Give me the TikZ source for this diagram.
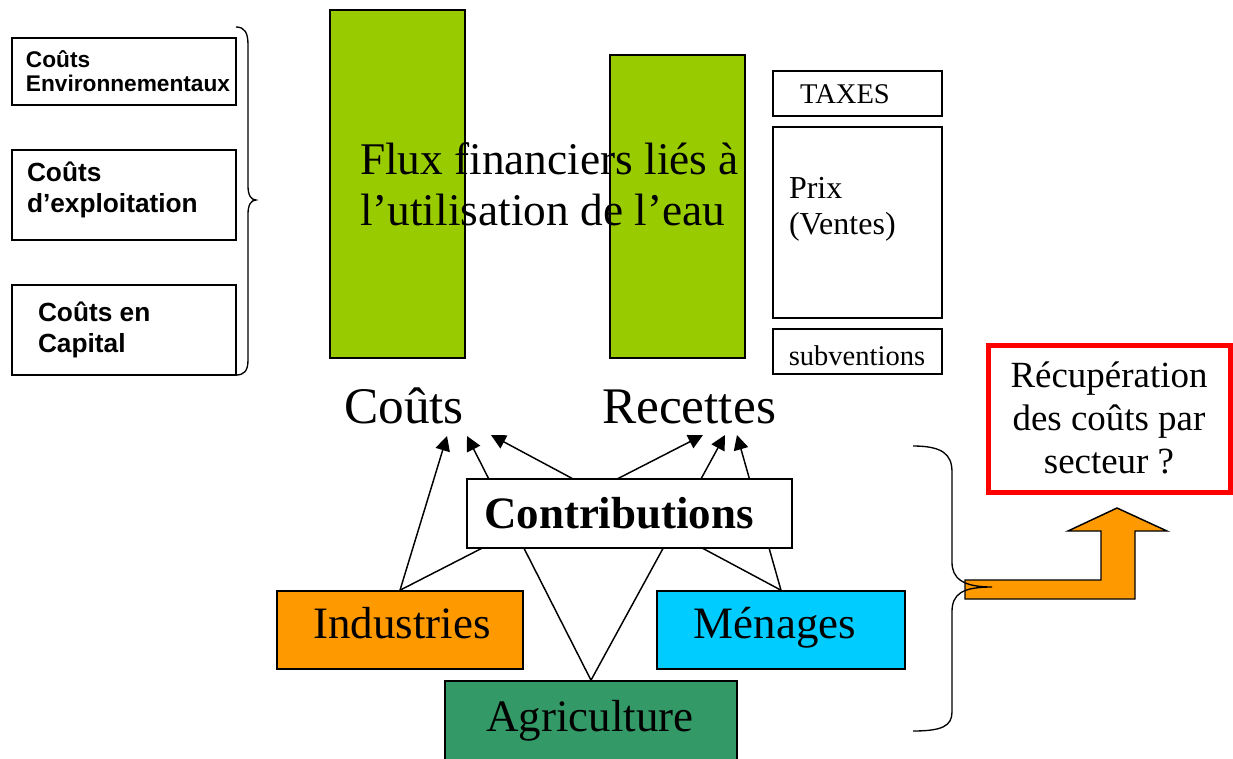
\documentclass[tikz,border=0pt]{standalone}
\usepackage{fontspec}
\setmainfont{Liberation Serif}
\setsansfont{Liberation Sans}
\usetikzlibrary{arrows.meta,fit}
\definecolor{vert}{HTML}{99CC00}
\definecolor{orng}{HTML}{FF9900}
\definecolor{cyanb}{HTML}{00CCFF}
\definecolor{agri}{HTML}{339966}
\definecolor{rouge}{HTML}{FF0000}
\newcommand\fsz[2]{\fontsize{#1}{#2}\selectfont}
\begin{document}
\begin{tikzpicture}[x=0.75pt,y=-0.75pt,
  box/.style={draw, line width=1.2pt, inner sep=0pt},
  bar/.style={draw, fill=vert, line width=1.2pt, inner sep=0pt},
  txt/.style={inner sep=0pt, outer sep=0pt},
  arr/.style={line width=1.1pt, -{Triangle[length=11pt,width=11pt]}},
  ln/.style={line width=1.1pt}]
\useasboundingbox (0,0) rectangle (1233,758);

% left boxes
\node[box, fit={(12,38)(236,105)}] (env) {};
\node[box, fit={(12,150)(236,240)}] (expl) {};
\node[box, fit={(12,285)(236,375)}] (cap) {};
\node[txt, anchor=base west, align=left, font=\sffamily\bfseries\fsz{17}{18}] (tenv) at (26,91) {Coûts\\Environnementaux};
\node[txt, anchor=base west, align=left, font=\sffamily\bfseries\fsz{19.7}{23}] (texpl) at (27,212) {Coûts\\d’exploitation};
\node[txt, anchor=base west, align=left, font=\sffamily\bfseries\fsz{19.7}{23}] (tcap) at (38,352) {Coûts en\\Capital};
\draw[line width=1pt] (236,27) .. controls (245,27) and (248,33) .. (248,45) -- (248,186) .. controls (248,195) and (251,200) .. (256,200) .. controls (251,200) and (248,205) .. (248,214) -- (248,360) .. controls (248,371) and (244,375) .. (236,375);

% green bars
\node[bar, fit={(330,10)(465,358)}] (bar1) {};
\node[bar, fit={(610,55)(745,358)}] (bar2) {};
\node[txt, anchor=base west, align=left, font=\fsz{34}{38}] (flux) at (360,225) {Flux financiers liés à\\l’utilisation de l’eau};

% right boxes
\node[box, fit={(773,71)(942,116)}] (taxes) {};
\node[box, fit={(773,127)(942,318)}] (prix) {};
\node[box, fit={(773,329)(942,374)}] (subv) {};
\node[txt, anchor=base, font=\fsz{21.4}{24}] (ttaxes) at (845,103) {TAXES};
\node[txt, anchor=base west, align=left, font=\fsz{24}{27}] (tprix) at (789,234) {Prix\\(Ventes)};
\node[txt, anchor=base, font=\fsz{21.4}{24}] (tsubv) at (857,365) {subventions};

% Couts / Recettes
\node[txt, anchor=base, font=\fsz{38.5}{42}] (couts) at (404,423) {Coûts};
\node[txt, anchor=base, font=\fsz{38.5}{42}] (recettes) at (689,423) {Recettes};
\coordinate (c1) at (447,436);
\coordinate (c2) at (467,436);
\coordinate (c3) at (491,435);
\coordinate (r1) at (703,435);
\coordinate (r2) at (725,435);
\coordinate (r3) at (737,435);

% sectors
\node[box, fill=orng, fit={(277,591)(523,669)}] (ind) {};
\node[box, fill=cyanb, fit={(657,591)(905,669)}] (men) {};
\node[box, fill=agri, fit={(445,681)(737,764)}] (agr) {};
\node[txt, anchor=base, font=\fsz{33.7}{38}] (tind) at (402,638) {Industries};
\node[txt, anchor=base, font=\fsz{33.7}{38}] (tmen) at (775,638) {Ménages};
\node[txt, anchor=base, font=\fsz{33.7}{38}] (tagr) at (590,731) {Agriculture};

% arrows
\draw[arr] (ind.north) -- (c1);
\draw[arr] (agr.north) -- (c2);
\draw[arr] (men.north) -- (c3);
\draw[arr] (ind.north) -- (r1);
\draw[arr] (agr.north) -- (r2);
\draw[arr] (men.north) -- (r3);

% contributions
\node[box, fill=white, fit={(467,479)(792,548)}] (contrib) {};
\node[txt, anchor=base, font=\bfseries\fsz{33.7}{38}] (tcontrib) at (619,528) {Contributions};

% orange arrow
\draw[fill=orng, line width=1.1pt] (965,580) -- (1101,580) -- (1101,531) -- (1068,531) -- (1117,508) -- (1167,531) -- (1135,531) -- (1135,599) -- (965,599) -- cycle;
% right brace
\draw[line width=1pt] (913,446) .. controls (942,446) and (952,454) .. (952,472) -- (952,562) .. controls (952,578) and (962,587) .. (992,587) .. controls (962,587) and (952,594) .. (952,612) -- (952,712) .. controls (952,726) and (942,731) .. (913,731);

% red box
\node[box, draw=rouge, line width=3.75pt, fit={(988,345)(1230,492)}] (recup) {};
\node[txt, anchor=base, align=center, font=\fsz{27.7}{32}] (trecup) at (1109,473) {Récupération\\des coûts par\\secteur ?};
\end{tikzpicture}
\end{document}
